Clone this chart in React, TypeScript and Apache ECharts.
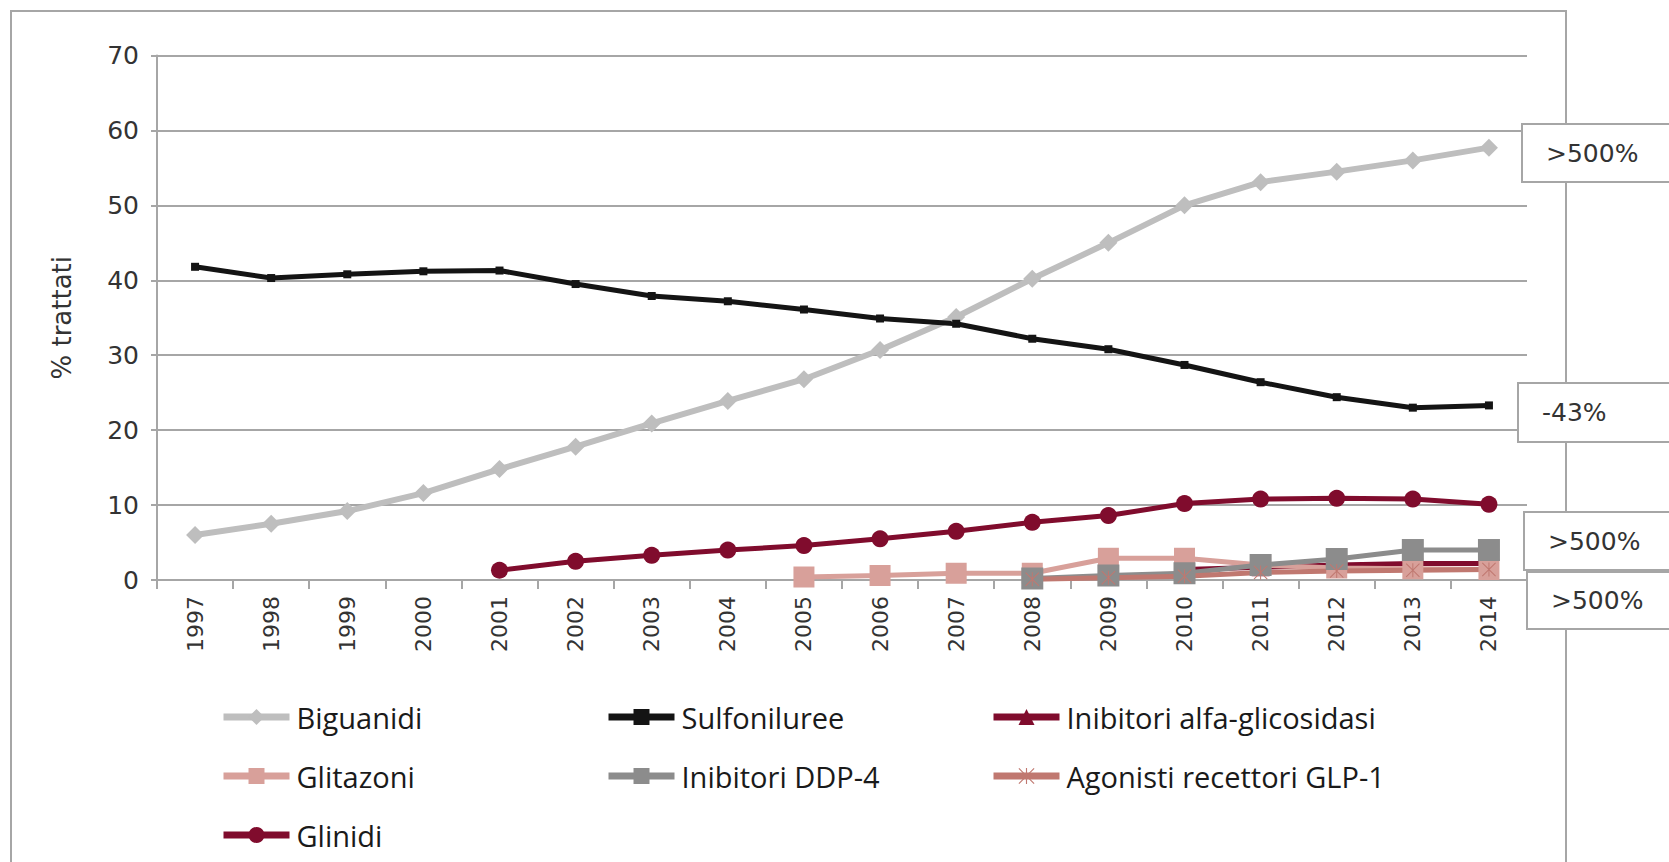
import React, { useEffect, useRef } from "react";
import * as echarts from "echarts";

// Anni di osservazione
const years = [
  "1997", "1998", "1999", "2000", "2001", "2002", "2003", "2004", "2005",
  "2006", "2007", "2008", "2009", "2010", "2011", "2012", "2013", "2014",
];

// % trattati per classe di farmaco
const biguanidi = [6.0, 7.5, 9.2, 11.6, 14.8, 17.8, 20.9, 23.9, 26.8, 30.7, 35.1, 40.2, 45.0, 50.0, 53.1, 54.5, 56.0, 57.7];
const sulfoniluree = [41.8, 40.3, 40.8, 41.2, 41.3, 39.5, 37.9, 37.2, 36.1, 34.9, 34.2, 32.2, 30.8, 28.7, 26.4, 24.4, 23.0, 23.3];
const alfaGlicosidasi = [null, null, null, null, null, null, null, null, null, null, null, null, null, 1.4, 1.7, 2.0, 2.2, 2.2];
const glitazoni = [null, null, null, null, null, null, null, null, 0.4, 0.6, 0.9, 0.9, 2.9, 2.9, 2.0, 1.6, 1.5, 1.4];
const ddp4 = [null, null, null, null, null, null, null, null, null, null, null, 0.2, 0.6, 0.9, 2.0, 2.8, 4.0, 4.0];
const glp1 = [null, null, null, null, null, null, null, null, null, null, null, 0.1, 0.3, 0.5, 1.0, 1.2, 1.3, 1.4];
const glinidi = [null, null, null, null, 1.3, 2.5, 3.3, 4.0, 4.6, 5.5, 6.5, 7.7, 8.6, 10.2, 10.8, 10.9, 10.8, 10.1];

// Variazioni indicate a destra del grafico
const changeLabels = [">500%", "-43%", ">500%", ">500%"];

const yTicks = { min: 0, max: 70, interval: 10 };

const ASTERISK =
  "path://M1,0L10,9L19,0L20,1L11,10L20,19L19,20L10,11L1,20L0,19L9,10L0,1Z M9.3,0H10.7V20H9.3Z";

const AXIS_GREY = "#a6a6a6";
const TEXT = "#333333";

export default function App() {
  const ref = useRef<HTMLDivElement>(null);

  useEffect(() => {
    if (!ref.current) return;
    const chart = echarts.init(ref.current, undefined, { renderer: "svg" });

    const line = (
      name: string,
      data: (number | null)[],
      color: string,
      symbol: string,
      symbolSize: number,
      width: number
    ) => ({
      name,
      type: "line",
      data,
      symbol,
      symbolSize,
      showAllSymbol: true,
      connectNulls: false,
      lineStyle: { color, width },
      itemStyle: { color },
      emphasis: { disabled: true },
    });

    const legendBase = {
      orient: "vertical",
      itemWidth: 66,
      itemHeight: 20,
      itemGap: 29,
      lineStyle: { width: 7 },
      textStyle: {
        fontFamily: "Open Sans",
        fontSize: 29,
        lineHeight: 30,
        color: "#1a1a1a",
        padding: [0, 0, 0, 2],
      },
      selectedMode: false,
      top: 697,
    };

    const boxes = [
      { y: 124, h: 58 },
      { y: 383, h: 59 },
      { y: 512, h: 58 },
      { y: 572, h: 57 },
    ];
    const boxX = [1522, 1518, 1524, 1527];

    const graphics: any[] = [
      {
        type: "rect",
        shape: { x: 11, y: 11, width: 1555, height: 900 },
        style: { fill: "none", stroke: AXIS_GREY, lineWidth: 2 },
        silent: true,
        z: -1,
      },
    ];
    boxes.forEach((b, i) => {
      graphics.push({
        type: "rect",
        shape: { x: boxX[i], y: b.y, width: 200, height: b.h },
        style: { fill: "#ffffff", stroke: AXIS_GREY, lineWidth: 2 },
        z: 10,
      });
      graphics.push({
        type: "text",
        x: boxX[i] + 24,
        y: b.y + b.h / 2,
        style: {
          text: changeLabels[i],
          fontFamily: "DejaVu Sans",
          fontSize: 25,
          fill: TEXT,
          verticalAlign: "middle",
          align: "left",
        },
        z: 11,
      });
    });

    chart.setOption({
      animation: false,
      backgroundColor: "#ffffff",
      grid: { left: 157, right: 142, top: 55.5, bottom: 282, containLabel: false },
      xAxis: {
        type: "category",
        data: years,
        boundaryGap: true,
        axisLine: { show: true, lineStyle: { color: AXIS_GREY, width: 2 } },
        axisTick: { show: true, length: 9, lineStyle: { color: AXIS_GREY, width: 2 } },
        axisLabel: {
          rotate: 90,
          margin: 16,
          fontFamily: "DejaVu Sans",
          fontSize: 22,
          color: TEXT,
          interval: 0,
        },
        splitLine: { show: false },
      },
      yAxis: {
        type: "value",
        min: yTicks.min,
        max: yTicks.max,
        interval: yTicks.interval,
        name: "% trattati",
        nameLocation: "middle",
        nameRotate: 90,
        nameGap: 82,
        nameTextStyle: { fontFamily: "DejaVu Sans", fontSize: 26, color: TEXT },
        axisLine: { show: true, lineStyle: { color: AXIS_GREY, width: 2 } },
        axisTick: { show: true, length: 6, lineStyle: { color: AXIS_GREY, width: 2 } },
        axisLabel: {
          margin: 18,
          fontFamily: "DejaVu Sans",
          fontSize: 25,
          color: TEXT,
        },
        splitLine: { show: true, lineStyle: { color: AXIS_GREY, width: 2 } },
      },
      legend: [
        { ...legendBase, left: 215, data: ["Biguanidi", "Glitazoni", "Glinidi"] },
        { ...legendBase, left: 600, data: ["Sulfoniluree", "Inibitori DDP-4"] },
        { ...legendBase, left: 985, data: ["Inibitori alfa-glicosidasi", "Agonisti recettori GLP-1"] },
      ],
      series: [
        line("Biguanidi", biguanidi, "#bebebe", "diamond", 18, 6),
        line("Sulfoniluree", sulfoniluree, "#141414", "rect", 8, 5),
        line("Inibitori alfa-glicosidasi", alfaGlicosidasi, "#800c2d", "triangle", 18, 5),
        line("Glitazoni", glitazoni, "#d8a09a", "rect", 21, 5),
        line("Inibitori DDP-4", ddp4, "#8c8c8c", "rect", 22, 5),
        line("Agonisti recettori GLP-1", glp1, "#c07870", ASTERISK, 14, 5),
        line("Glinidi", glinidi, "#800c2d", "circle", 17, 5),
      ],
      graphic: graphics,
    });

    return () => chart.dispose();
  }, []);

  return (
    <div
      ref={ref}
      style={{ position: "absolute", left: 0, top: 0, width: 1669, height: 862 }}
    />
  );
}
